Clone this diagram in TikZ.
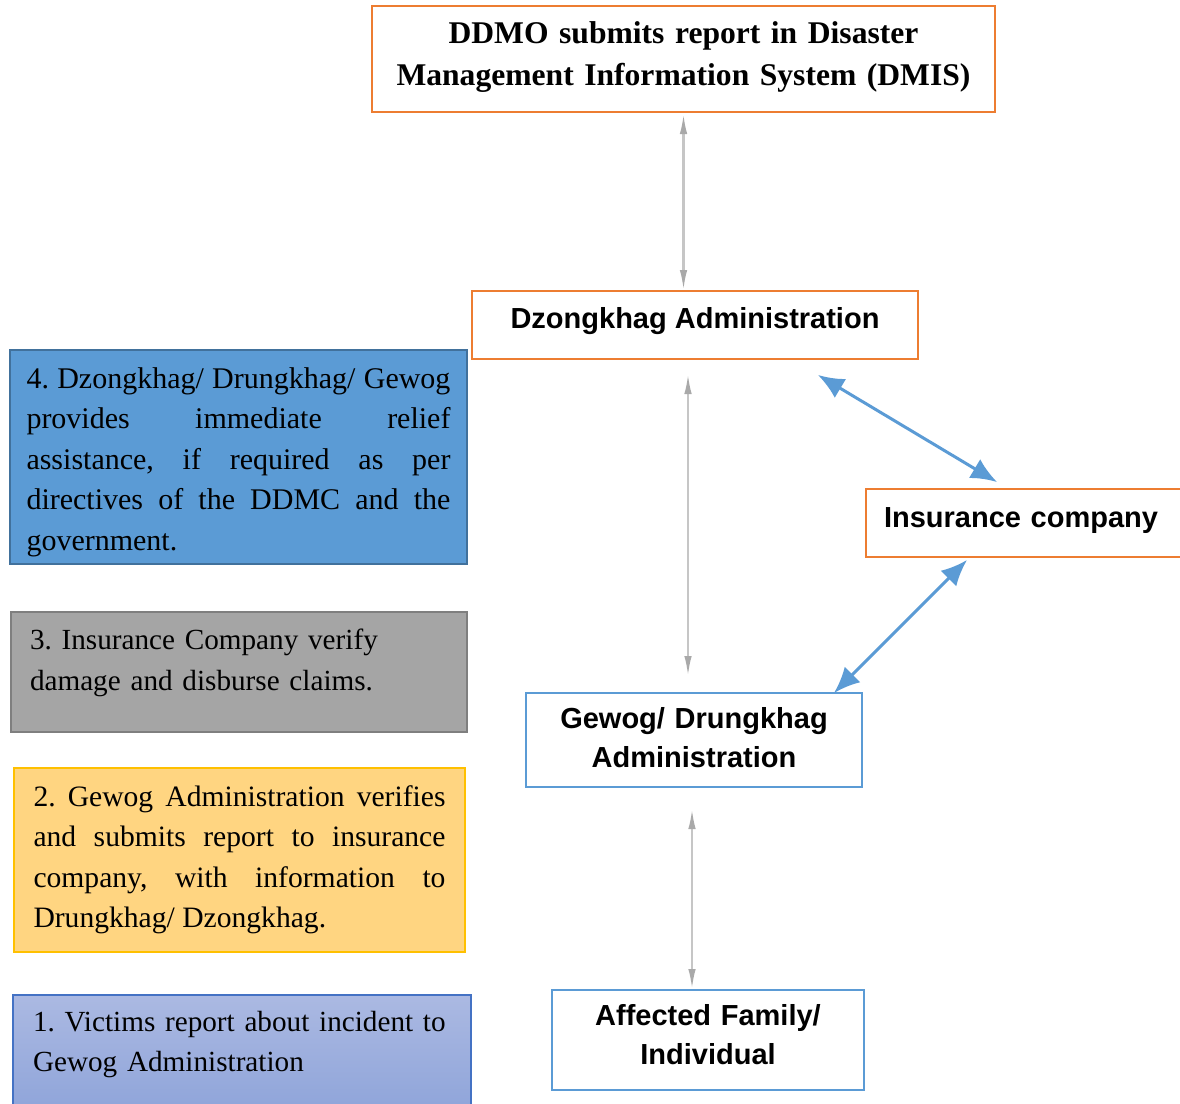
\documentclass[tikz,border=0pt]{standalone}
\usepackage{fontspec}
\setmainfont{Liberation Serif}
\newfontfamily\arialish{Liberation Sans}
\usetikzlibrary{arrows.meta,calc}
\definecolor{accentorange}{HTML}{ED7D31}
\definecolor{accentblue}{HTML}{5B9BD5}
\definecolor{darkblue}{HTML}{41719C}
\definecolor{midgray}{HTML}{A5A5A5}
\definecolor{edgegray}{HTML}{7F7F7F}
\definecolor{paleorange}{HTML}{FFD581}
\definecolor{goldedge}{HTML}{FFC000}
\definecolor{lavtop}{HTML}{ABB9E2}
\definecolor{lavbottom}{HTML}{8DA3D9}
\definecolor{royal}{HTML}{4472C4}
\definecolor{linkgray}{HTML}{C6C6C6}
\definecolor{tipgray}{HTML}{A9A9A9}
\tolerance=10000
\hbadness=10000
\frenchspacing
\begin{document}
\begin{tikzpicture}[x=1pt,y=-1pt,
  every node/.style={inner ysep=0pt, outer sep=0pt},
  orangebox/.style={draw=accentorange, line width=2.4pt, fill=white, text height=22pt},
  bluebox/.style={draw=accentblue, line width=2pt, fill=white, text height=22pt},
  headfont/.style={font=\fontsize{29}{39}\selectfont\arialish\bfseries, align=center},
  notefont/.style={font=\fontsize{#1}{40.5}\selectfont, text height=22pt},
  notefont/.default=30,
  graylink/.style={draw=linkgray, line width=2.2pt,
    {Latex[length=20pt,width=7.5pt,color=tipgray]}-{Latex[length=20pt,width=7.5pt,color=tipgray]}},
  bluelink/.style={draw=accentblue, line width=3pt,
    {Latex[length=26pt,width=22pt]}-{Latex[length=26pt,width=22pt]}}
]
\useasboundingbox (0,0) rectangle (1180,1103);

% --- flow boxes on the right ---
\node[orangebox, minimum width=623pt, minimum height=106pt, text depth=54pt,
      text width=600pt, font=\fontsize{31.6}{42}\selectfont\bfseries, align=center]
  (ddmo) at (683.5,59)
  {DDMO submits report in Disaster\\Management Information System (DMIS)};
\node[orangebox, headfont, minimum width=446pt, minimum height=68pt, text depth=16pt]
  (dz) at (695,325) {Dzongkhag Administration};
\node[orangebox, headfont, minimum width=330pt, minimum height=68pt, text depth=14pt,
      text width=294pt, inner xsep=18pt, align=left]
  (ins) at (1031,523) {Insurance company};
\node[bluebox, headfont, minimum width=336pt, minimum height=94pt, text depth=46pt,
      text width=310pt]
  (gew) at (694,740) {Gewog/ Drungkhag\\Administration};
\node[bluebox, headfont, minimum width=312pt, minimum height=100pt, text depth=52pt,
      text width=290pt]
  (aff) at (708,1040) {Affected Family/\\Individual};

% --- numbered notes on the left ---
\node[notefont, draw=darkblue, line width=1.2pt, fill=accentblue, text width=424pt,
      inner xsep=16.5pt, align=justify, minimum height=214pt, text depth=160pt]
  (note4) at (238.5,457)
  {4. Dzongkhag/ Drungkhag/ Gewog\linebreak provides immediate relief\linebreak
   assistance, if required as per\linebreak directives of the DDMC and the\linebreak
   government.};
\node[notefont=29.2, draw=edgegray, line width=1.2pt, fill=midgray, text width=418pt,
      inner xsep=19pt, align=left, minimum height=120pt, text depth=67pt]
  (note3) at (239,672)
  {\mbox{3. Insurance Company verify}\\\mbox{damage and disburse claims.}};
\node[notefont=29.6, draw=goldedge, line width=1.6pt, fill=paleorange, text width=412pt,
      inner xsep=19.5pt, align=justify, minimum height=184pt, text depth=130pt]
  (note2) at (239.5,860)
  {2. Gewog Administration verifies\linebreak and submits report to insurance\linebreak
   company, with information to\linebreak Drungkhag/ Dzongkhag.};
\node[notefont=29.2, draw=royal, line width=1.4pt, top color=lavtop, bottom color=lavbottom,
      text width=418pt, inner xsep=20pt, align=left, minimum height=125pt, text depth=75pt]
  (note1) at (242,1057.5)
  {\mbox{1. Victims report about incident to}\\\mbox{Gewog Administration}};

% --- connectors ---
\draw[graylink, shorten <=2pt, shorten >=1pt] (ddmo.south) -- (ddmo.south |- dz.north);
\coordinate (dzdrop) at ($(dz.south)+(-7,0)$);
\draw[graylink, shorten <=15pt, shorten >=17pt] (dzdrop) -- (dzdrop |- gew.north);
\coordinate (gewdrop) at ($(gew.south)+(-2,0)$);
\draw[graylink, shorten <=22pt, shorten >=1pt] (gewdrop) -- (gewdrop |- aff.north);

\draw[bluelink] ($(dz.south east)+(-100,16)$) -- ($(ins.north west)+(131,-7)$);
\draw[bluelink] ($(ins.south west)+(101,3)$) -- ($(gew.north east)+(-28,0)$);
\end{tikzpicture}
\end{document}
